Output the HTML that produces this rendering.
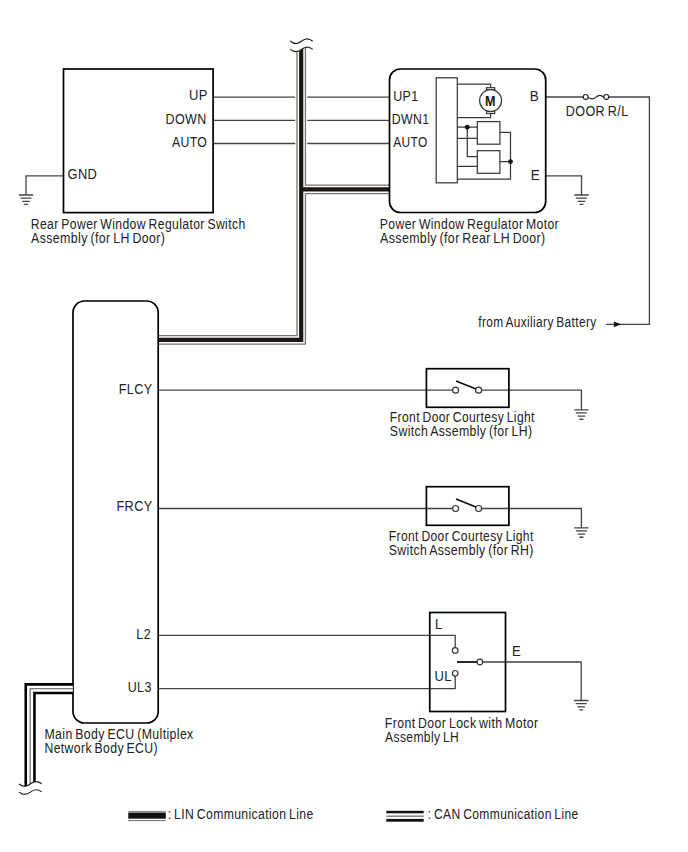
<!DOCTYPE html>
<html><head><meta charset="utf-8">
<style>
html,body{margin:0;padding:0;background:#fff;width:688px;height:852px;overflow:hidden}
svg{display:block}
text{font-family:"Liberation Sans",sans-serif;font-size:13px;letter-spacing:0.4px;word-spacing:-1.2px;fill:#222}
</style></head>
<body>
<svg width="688" height="852" viewBox="0 0 688 852">


<!-- ============ thin wires ============ -->
<g stroke="#444" stroke-width="1.3" fill="none">
  <path d="M213,97.1H389.5 M213,120.3H389.5 M213,143.5H389.5"/>
  <path d="M63.5,175.8H26V195"/>
  <path d="M545.8,97H583 M608.5,97H649.4V324.3H606"/>
  <path d="M545.8,175.8H581.5V195"/>
  <path d="M158,390.2H452.6 M481.6,390.2H581.4V409.8"/>
  <path d="M158,508.5H452.6 M481.6,508.5H581.4V527.8"/>
  <path d="M158,635.4H455.2V647.7 M455.2,676.1V688.6H158"/>
  <path d="M482.7,662H581.2V700.5"/>
</g>
<!-- fuse -->
<g stroke="#222" stroke-width="1.15" fill="#fff">
  <circle cx="585.7" cy="96.9" r="2.45"/>
  <circle cx="606.3" cy="96.9" r="2.45"/>
  <path d="M588.1,97.2 Q592.2,100.6 596,97.1 T603.9,97.2" fill="none"/>
</g>
<!-- arrow -->
<path d="M613.8,321.4 L621.2,324.3 L613.8,327.2Z" fill="#1a1515"/>

<!-- grounds -->
<path d="M18.80,195.00H33.20 M20.50,198.15H31.50 M22.20,201.30H29.80 M24.00,204.45H28.00" stroke="#444" stroke-width="1.3" fill="none"/>
<path d="M574.30,195.00H588.70 M576.00,198.15H587.00 M577.70,201.30H585.30 M579.50,204.45H583.50" stroke="#444" stroke-width="1.3" fill="none"/>
<path d="M574.20,409.80H588.60 M575.90,412.95H586.90 M577.60,416.10H585.20 M579.40,419.25H583.40" stroke="#444" stroke-width="1.3" fill="none"/>
<path d="M574.20,527.80H588.60 M575.90,530.95H586.90 M577.60,534.10H585.20 M579.40,537.25H583.40" stroke="#444" stroke-width="1.3" fill="none"/>
<path d="M574.00,700.50H588.40 M575.70,703.65H586.70 M577.40,706.80H585.00 M579.20,709.95H583.20" stroke="#444" stroke-width="1.3" fill="none"/>

<!-- ============ LIN line ============ -->
<g fill="none" stroke-linejoin="miter" stroke-linecap="butt">
  <path d="M301.2,46V339.8H158.3 M301.2,189.45H389.5" stroke="#fff" stroke-width="12"/>
  <path d="M301.2,46V339.8H158.3 M301.2,189.45H389.5" stroke="#747070" stroke-width="9.7"/>
  <path d="M301.2,46V339.8H158.3 M301.2,189.45H389.5" stroke="#fff" stroke-width="7.2"/>
  <path d="M301.2,46V339.8H158.3 M301.2,189.45H389.5" stroke="#1f1715" stroke-width="4.2"/>
</g>
<!-- mask above tilde -->
<path d="M286,49.6 Q295.8,53.8 301.5,49.4 T316,49.4 V40 H286Z" fill="#fff"/>
<g stroke="#222" stroke-width="1.2" fill="none">
  <path d="M290.2,41 Q296,46 301.5,41.3 T312.8,41.3"/>
  <path d="M290.2,49.1 Q296,54.1 301.5,49.4 T312.8,49.4"/>
</g>

<!-- ============ boxes ============ -->
<g stroke="#000" stroke-width="1.7" fill="none">
  <rect x="63.5" y="69" width="149.6" height="143.6"/>
  <rect x="389.5" y="69" width="156.2" height="143.5" rx="11"/>
  <rect x="73" y="301" width="85.2" height="422" rx="11.5"/>
  <rect x="426.4" y="368.7" width="82.5" height="38.6"/>
  <rect x="426.4" y="486.7" width="82.5" height="38.6"/>
  <rect x="429.75" y="612.5" width="75.75" height="99"/>
</g>

<!-- motor internals -->
<g stroke="#3a3a3a" stroke-width="1.25" fill="none">
  <rect x="436.2" y="77.8" width="21.1" height="105"/>
  <path d="M457.3,84H490.6V87.7 M490.6,113.5V117.6H457.3"/>
  <rect x="486.5" y="87.7" width="8.2" height="2.2" fill="#fff"/>
  <rect x="486.5" y="111.3" width="8.2" height="2.2" fill="#fff"/>
  <circle cx="490.6" cy="100.6" r="11" fill="#fff"/>
  <rect x="477.3" y="121.6" width="22.6" height="22.6"/>
  <rect x="477.3" y="150.7" width="22.6" height="22.6"/>
  <path d="M457.3,127.2H477.3 M457.3,138.4H477.3 M467.3,127.2V156.5H477.3 M457.3,166.3H477.3"/>
  <path d="M499.9,132.3H510.5V179H457.3 M499.9,161.6H510.5"/>
</g>
<circle cx="467.3" cy="127.2" r="2.4" fill="#111"/>
<circle cx="510.5" cy="161.6" r="2.4" fill="#111"/>
<text x="0" y="0" text-anchor="middle" transform="matrix(0.88 0 0 1 490.5 106)" style="font-weight:bold;font-size:14.3px;fill:#1a1212">M</text>

<!-- switches -->
<g stroke="#333" stroke-width="1.2" fill="#fff">
  <circle cx="455.6" cy="390.2" r="3"/>
  <circle cx="478.6" cy="390.2" r="3"/>
  <circle cx="455.6" cy="508.5" r="3"/>
  <circle cx="478.6" cy="508.5" r="3"/>
  <circle cx="455.2" cy="650.5" r="2.8"/>
  <circle cx="455.2" cy="673.3" r="2.8"/>
  <circle cx="479.9" cy="662" r="2.8"/>
</g>
<g stroke="#111" stroke-width="1.8" fill="none">
  <path d="M456,381L476,389 M456,499L476,507"/>
  <path d="M457,662H477"/>
</g>

<!-- ============ CAN line ============ -->
<g fill="none" stroke-linejoin="miter" stroke-linecap="butt">
  <path d="M72.8,688.7H30.1V790" stroke="#000" stroke-width="11.3"/>
  <path d="M72.8,688.7H30.1V790" stroke="#fff" stroke-width="6.1"/>
  <path d="M72.8,688.7H30.1V790" stroke="#555" stroke-width="1.1"/>
</g>
<path d="M17,784.3 Q24.5,789 30,784 T43,784 V800 H17Z" fill="#fff"/>
<g stroke="#222" stroke-width="1.2" fill="none">
  <path d="M19,784 Q24.5,788.6 30.3,784 T41.7,783.8"/>
  <path d="M19,792.1 Q24.5,796.7 30.3,792.1 T41.7,791.9"/>
</g>

<!-- ============ text ============ -->
<g>
  <text x="0" y="100" transform="matrix(1.0000 0 0 1.06 189.10 -6.00)">UP</text>
  <text x="0" y="124" transform="matrix(0.9634 0 0 1.06 165.54 -7.44)">DOWN</text>
  <text x="0" y="147" transform="matrix(0.9432 0 0 1.06 171.90 -8.82)">AUTO</text>
  <text x="0" y="179" transform="matrix(0.9893 0 0 1.06 67.51 -10.74)">GND</text>
  <text x="0" y="229" transform="matrix(0.9383 0 0 1.06 30.76 -13.74)">Rear Power Window Regulator Switch</text>
  <text x="0" y="243" transform="matrix(0.9536 0 0 1.06 31.00 -14.58)">Assembly (for LH Door)</text>
  <text x="0" y="101" transform="matrix(0.9600 0 0 1.06 393.24 -6.06)">UP1</text>
  <text x="0" y="124" transform="matrix(0.9447 0 0 1.06 391.76 -7.44)">DWN1</text>
  <text x="0" y="147" transform="matrix(0.9189 0 0 1.06 393.30 -8.82)">AUTO</text>
  <text x="0" y="101" transform="matrix(1.0400 0 0 1.06 529.82 -6.06)">B</text>
  <text x="0" y="180" transform="matrix(1.0400 0 0 1.06 530.67 -10.80)">E</text>
  <text x="0" y="116" transform="matrix(0.9683 0 0 1.06 565.78 -6.96)">DOOR R/L</text>
  <text x="0" y="229" transform="matrix(0.9379 0 0 1.06 379.86 -13.74)">Power Window Regulator Motor</text>
  <text x="0" y="243" transform="matrix(0.9541 0 0 1.06 380.10 -14.58)">Assembly (for Rear LH Door)</text>
  <text x="0" y="327" transform="matrix(0.9163 0 0 1.06 478.30 -19.62)">from Auxiliary Battery</text>
  <text x="0" y="394" transform="matrix(0.9727 0 0 1.06 118.63 -23.64)">FLCY</text>
  <text x="0" y="511" transform="matrix(0.9771 0 0 1.06 116.42 -30.66)">FRCY</text>
  <text x="0" y="639" transform="matrix(0.9600 0 0 1.06 136.37 -38.34)">L2</text>
  <text x="0" y="692" transform="matrix(0.9600 0 0 1.06 127.70 -41.52)">UL3</text>
  <text x="0" y="422" transform="matrix(0.9303 0 0 1.06 389.87 -25.32)">Front Door Courtesy Light</text>
  <text x="0" y="436" transform="matrix(0.9443 0 0 1.06 389.86 -26.16)">Switch Assembly (for LH)</text>
  <text x="0" y="541" transform="matrix(0.9297 0 0 1.06 388.77 -32.46)">Front Door Courtesy Light</text>
  <text x="0" y="555" transform="matrix(0.9470 0 0 1.06 388.75 -33.30)">Switch Assembly (for RH)</text>
  <text x="0" y="629" transform="matrix(1.0000 0 0 1.06 434.90 -37.74)">L</text>
  <text x="0" y="681" transform="matrix(1.0000 0 0 1.06 434.50 -40.86)">UL</text>
  <text x="0" y="656" transform="matrix(1.0000 0 0 1.06 511.90 -39.36)">E</text>
  <text x="0" y="728" transform="matrix(0.9472 0 0 1.06 384.85 -43.68)">Front Door Lock with Motor</text>
  <text x="0" y="742" transform="matrix(0.9291 0 0 1.06 385.10 -44.52)">Assembly LH</text>
  <text x="0" y="739" transform="matrix(0.9474 0 0 1.06 44.45 -44.34)">Main Body ECU (Multiplex</text>
  <text x="0" y="753" transform="matrix(0.9412 0 0 1.06 44.46 -45.18)">Network Body ECU)</text>
  <text x="0" y="819" transform="matrix(0.9390 0 0 1.06 167.66 -49.14)">: LIN Communication Line</text>
  <text x="0" y="819" transform="matrix(0.9286 0 0 1.06 427.67 -49.14)">: CAN Communication Line</text>
</g>
<!-- legend symbols -->
<rect x="128.3" y="810.9" width="37.5" height="2.2" fill="#8a8a8a"/>
<rect x="128.3" y="813" width="37.5" height="5.7" fill="#111"/>
<rect x="128.3" y="820" width="37.5" height="1.1" fill="#777"/>
<rect x="386.3" y="810.8" width="37.4" height="2.5" fill="#111"/>
<rect x="386.3" y="815.6" width="37.4" height="1.1" fill="#555"/>
<rect x="386.3" y="818.9" width="37.4" height="2.8" fill="#111"/>
</svg>
</body></html>
